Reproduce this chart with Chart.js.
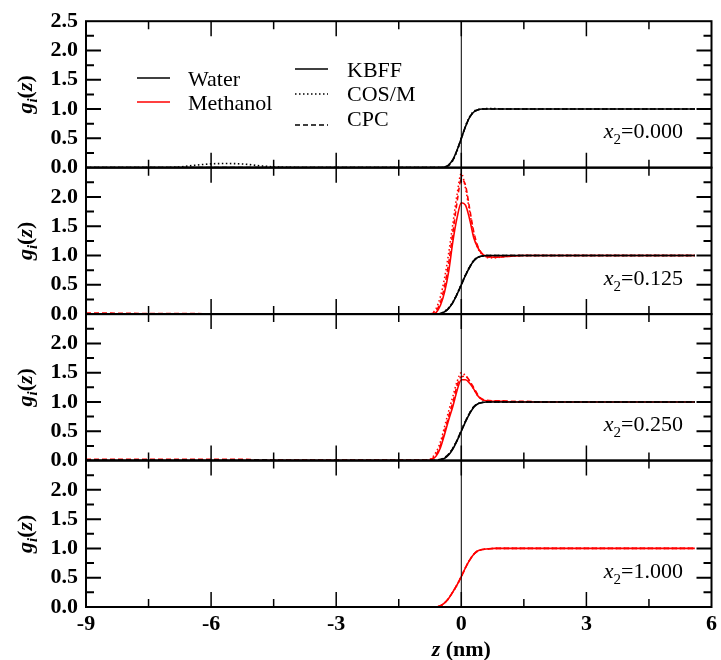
<!DOCTYPE html>
<html>
<head>
<meta charset="utf-8">
<script src="https://cdn.jsdelivr.net/npm/chart.js@4.4.0/dist/chart.umd.min.js"></script>
<style>
  html, body { margin: 0; padding: 0; background: #fff; }
  #wrap { width: 721px; height: 660px; }
</style>
</head>
<body>
<div id="wrap"><canvas id="gz" width="721" height="660"></canvas></div>
<script>
// g_i(z) density profiles across the interface, one panel per methanol fraction x2

const Z = [-9, -7.2, -6.8, -6.4, -6.0, -5.6, -5.2, -4.8, -4.4, -3, -1.5,
  -1.0, -0.8, -0.7, -0.6, -0.5, -0.4, -0.3, -0.2, -0.1,
  0, 0.1, 0.2, 0.3, 0.4, 0.5, 0.6, 0.8, 1.0, 1.2, 1.5, 2, 3, 4, 5, 5.6];

const PANEL_X2 = ["0.000", "0.125", "0.250", "1.000"];
const X_TICKS = [-9, -6, -3, 0, 3, 6];
const Y_TICKS = [0, 0.5, 1.0, 1.5, 2.0, 2.5];

// x2 = 0.000 (water only)
const w000_kbff = [0,0,0,0,0,0,0,0,0,0,0, 0,0,0,0, 0,0.01,0.05,0.14,0.30, 0.50,0.70,0.86,0.95,0.99, 1.0,1.0,1.0,1.0,1.0,1.0,1.0,1.0,1.0,1.0,1.0];
const w000_cosm = [0,0,0.01,0.04,0.065,0.07,0.06,0.03,0.01,0,0, 0,0,0,0, 0,0.01,0.05,0.13,0.29, 0.50,0.71,0.87,0.96,0.99, 1.0,1.01,1.01,1.0,1.0,1.0,1.0,1.0,1.0,1.0,1.0];
const w000_cpc  = [0,0,0,0,0,0,0,0,0,0,0, 0,0,0,0, 0,0.01,0.04,0.13,0.30, 0.50,0.70,0.86,0.95,0.99, 1.0,1.0,1.0,1.0,1.0,1.0,1.0,1.0,1.0,1.0,1.0];

// x2 = 0.125
const w125_kbff = [0,0,0,0,0,0,0,0,0,0,0, 0,0,0,0, 0.01,0.04,0.10,0.20,0.34, 0.50,0.66,0.80,0.91,0.97, 0.99,1.0,1.0,1.0,1.0,1.0,1.0,1.0,1.0,1.0,1.0];
const w125_cosm = [0,0,0,0,0,0,0,0,0,0,0, 0,0,0,0, 0.01,0.05,0.11,0.21,0.35, 0.51,0.67,0.81,0.92,0.97, 0.99,1.0,1.0,1.0,1.0,1.0,1.0,1.0,1.0,1.0,1.0];
const w125_cpc  = [0,0,0,0,0,0,0,0,0,0,0, 0,0,0,0, 0.01,0.04,0.10,0.20,0.34, 0.50,0.66,0.80,0.91,0.97, 0.99,1.0,1.0,1.0,1.0,1.0,1.0,1.0,1.0,1.0,1.0];
const m125_kbff = [0,0,0,0,0,0,0,0,0,0,0, 0,0,0,0.03, 0.15,0.38,0.74,1.25,1.65, 1.90,1.86,1.62,1.30,1.13, 1.03,0.99,0.97,0.98,0.99,1.0,1.0,1.0,1.0,1.0,1.0];
const m125_cosm = [0,0,0,0,0,0,0,0,0,0,0, 0,0,0.02,0.10, 0.30,0.62,1.05,1.55,2.05, 2.40,2.15,1.75,1.35,1.12, 1.02,0.97,0.96,0.98,0.99,1.0,1.0,1.0,1.0,1.0,1.0];
const m125_cpc  = [0.02,0.01,0.01,0.01,0,0,0,0,0,0,0, 0,0,0.01,0.06, 0.20,0.48,0.88,1.40,1.92, 2.30,2.20,1.80,1.40,1.15, 1.03,0.98,0.97,0.98,1.0,1.0,1.0,1.0,1.0,1.0,1.0];

// x2 = 0.250
const w250_kbff = [0,0,0,0,0,0,0,0,0,0,0, 0,0,0,0, 0.01,0.04,0.10,0.20,0.34, 0.50,0.66,0.80,0.91,0.97, 0.99,1.0,1.0,1.0,1.0,1.0,1.0,1.0,1.0,1.0,1.0];
const w250_cosm = [0,0,0,0,0,0,0,0,0,0,0, 0,0,0,0, 0.01,0.05,0.11,0.21,0.35, 0.51,0.67,0.81,0.92,0.97, 0.99,1.0,1.0,1.0,1.0,1.0,1.0,1.0,1.0,1.0,1.0];
const w250_cpc  = [0.01,0.01,0.01,0.01,0.01,0.01,0.01,0.01,0,0,0, 0,0,0,0.01, 0.02,0.05,0.11,0.21,0.35, 0.51,0.67,0.81,0.92,0.97, 0.99,1.0,1.0,1.0,1.0,1.0,1.0,1.0,1.0,1.0,1.0];
const m250_kbff = [0,0,0,0,0,0,0,0,0,0,0, 0,0,0.02,0.08, 0.22,0.45,0.70,0.93,1.20, 1.38,1.38,1.32,1.22,1.10, 1.04,1.02,1.01,1.01,1.0,1.0,1.0,1.0,1.0,1.0,1.0];
const m250_cosm = [0,0,0,0,0,0,0,0,0,0,0, 0,0.01,0.05,0.15, 0.32,0.58,0.85,1.10,1.35, 1.50,1.45,1.35,1.22,1.10, 1.04,1.02,1.01,1.01,1.0,1.0,1.0,1.0,1.0,1.0,1.0];
const m250_cpc  = [0.02,0.02,0.02,0.02,0.02,0.02,0.02,0.01,0.01,0.01,0.01, 0.01,0.01,0.03,0.10, 0.26,0.50,0.76,1.00,1.28, 1.43,1.44,1.36,1.24,1.12, 1.05,1.03,1.02,1.02,1.01,1.01,1.0,1.0,1.0,1.0,1.0];

// x2 = 1.000 (methanol only)
const m1000_kbff = [0,0,0,0,0,0,0,0,0,0,0, 0,0,0,0, 0.02,0.07,0.15,0.26,0.38, 0.52,0.67,0.80,0.90,0.96, 0.98,0.99,1.0,1.0,1.0,1.0,1.0,1.0,1.0,1.0,1.0];
const m1000_cosm = [0,0,0,0,0,0,0,0,0,0,0, 0,0,0,0, 0.02,0.07,0.15,0.26,0.38, 0.52,0.67,0.80,0.90,0.96, 0.98,0.99,1.0,1.0,1.0,1.0,1.0,1.0,1.0,1.0,1.0];
const m1000_cpc  = [0,0,0,0,0,0,0,0,0,0,0, 0,0,0,0, 0.02,0.07,0.15,0.26,0.38, 0.52,0.67,0.80,0.90,0.96, 0.98,0.99,1.0,1.0,1.0,1.0,1.0,1.0,1.0,1.0,1.0];

const FONT = "'Liberation Serif', 'Times New Roman', serif";
const BLACK = "#000000";
const RED = "#ff0000";
const DOT = [1.5, 2.5];
const DASH = [5, 3];

function series(vals, axis, color, dash) {
  return {
    data: Z.map((z, i) => ({ x: z, y: vals[i] })),
    yAxisID: axis,
    borderColor: color,
    borderWidth: 1.6,
    borderDash: dash || [],
    pointRadius: 0,
    cubicInterpolationMode: "monotone",
    fill: false
  };
}

const datasets = [
  series(w000_kbff, "y0", BLACK), series(w000_cosm, "y0", BLACK, DOT), series(w000_cpc, "y0", BLACK, DASH),
  series(w125_kbff, "y1", BLACK), series(w125_cosm, "y1", BLACK, DOT), series(w125_cpc, "y1", BLACK, DASH),
  series(m125_kbff, "y1", RED), series(m125_cosm, "y1", RED, DOT), series(m125_cpc, "y1", RED, DASH),
  series(w250_kbff, "y2", BLACK), series(w250_cosm, "y2", BLACK, DOT), series(w250_cpc, "y2", BLACK, DASH),
  series(m250_kbff, "y2", RED), series(m250_cosm, "y2", RED, DOT), series(m250_cpc, "y2", RED, DASH),
  series(m1000_kbff, "y3", RED), series(m1000_cosm, "y3", RED, DOT), series(m1000_cpc, "y3", RED, DASH)
];

function yScale(idx) {
  return {
    type: "linear",
    position: "left",
    stack: "panels",
    stackWeight: 1,
    min: 0,
    max: 2.5,
    grid: { display: false, drawTicks: false },
    border: { display: false },
    afterBuildTicks: (s) => { s.ticks = Y_TICKS.map(v => ({ value: v })); },
    afterFit: (s) => { s.width = 86; },
    ticks: {
      autoSkip: false,
      padding: 8,
      color: BLACK,
      font: { family: FONT, size: 22, weight: "bold" },
      // lower panels leave the 2.5 label to the panel above
      callback: (v) => (idx > 0 && v === 2.5) ? "" : v.toFixed(1)
    }
  };
}

// runs of text with mixed fonts (italic symbols, subscripts)
function drawRuns(ctx, runs, x, y, align) {
  let w = 0;
  runs.forEach(r => { ctx.font = r.font; w += ctx.measureText(r.t).width; });
  let cx = align === "right" ? x - w : align === "center" ? x - w / 2 : x;
  runs.forEach(r => {
    ctx.font = r.font;
    ctx.fillText(r.t, cx, y + (r.dy || 0));
    cx += ctx.measureText(r.t).width;
  });
}

const framePlugin = {
  id: "frame",
  afterDraw(chart) {
    const ctx = chart.ctx;
    const xs = chart.scales.x;
    const area = chart.chartArea;
    const panels = ["y0", "y1", "y2", "y3"].map(id => chart.scales[id]);
    ctx.save();
    ctx.strokeStyle = BLACK;
    ctx.fillStyle = BLACK;

    // vertical line at z = 0 through all panels
    const x0 = xs.getPixelForValue(0);
    ctx.lineWidth = 1;
    ctx.beginPath();
    ctx.moveTo(x0, area.top);
    ctx.lineTo(x0, area.bottom);
    ctx.stroke();

    panels.forEach((s, p) => {
      // inward ticks on y (every 0.25)
      ctx.lineWidth = 2;
      for (let k = 1; k < 10; k++) {
        const py = s.getPixelForValue(k * 0.25);
        const len = k % 2 === 0 ? 15 : 8;
        ctx.beginPath();
        ctx.moveTo(area.left, py); ctx.lineTo(area.left + len, py);
        ctx.moveTo(area.right, py); ctx.lineTo(area.right - len, py);
        ctx.stroke();
      }
      // inward ticks on x (every 1.5)
      ctx.lineWidth = 1.5;
      for (let k = 1; k < 10; k++) {
        const px = xs.getPixelForValue(-9 + k * 1.5);
        const len = k % 2 === 0 ? 15 : 8;
        ctx.beginPath();
        ctx.moveTo(px, s.bottom); ctx.lineTo(px, s.bottom - len);
        ctx.moveTo(px, s.top); ctx.lineTo(px, s.top + len);
        ctx.stroke();
      }
      // panel frame
      ctx.lineWidth = 2;
      ctx.strokeRect(area.left, s.top, area.right - area.left, s.bottom - s.top);

      // x2 label
      ctx.textAlign = "left";
      ctx.textBaseline = "alphabetic";
      drawRuns(ctx, [
        { t: "x", font: "italic 22px " + FONT },
        { t: "2", font: "15px " + FONT, dy: 6 },
        { t: "=" + PANEL_X2[p], font: "22px " + FONT }
      ], 683, s.getPixelForValue(0.5), "right");

      // y title g_i(z)
      ctx.save();
      ctx.translate(25, (s.top + s.bottom) / 2);
      ctx.rotate(-Math.PI / 2);
      drawRuns(ctx, [
        { t: "g", font: "italic bold 22px " + FONT },
        { t: "i", font: "italic bold 15px " + FONT, dy: 5 },
        { t: "(", font: "bold 22px " + FONT },
        { t: "z", font: "italic bold 22px " + FONT },
        { t: ")", font: "bold 22px " + FONT }
      ], 0, 7, "center");
      ctx.restore();
    });

    // x title
    drawRuns(ctx, [
      { t: "z", font: "italic bold 22px " + FONT },
      { t: " (nm)", font: "bold 22px " + FONT }
    ], x0, 656, "center");

    // legend: species
    ctx.lineWidth = 1.5;
    const legendLine = (x1, x2, y, color, dash) => {
      ctx.strokeStyle = color;
      ctx.setLineDash(dash || []);
      ctx.beginPath(); ctx.moveTo(x1, y); ctx.lineTo(x2, y); ctx.stroke();
      ctx.setLineDash([]);
    };
    legendLine(137, 170, 78, BLACK);
    legendLine(137, 170, 102, RED);
    ctx.font = "22px " + FONT;
    ctx.fillText("Water", 188, 86);
    ctx.fillText("Methanol", 188, 110);
    // legend: models
    legendLine(295, 328, 69, BLACK);
    legendLine(295, 328, 94, BLACK, DOT);
    legendLine(295, 328, 125, BLACK, DASH);
    ctx.fillText("KBFF", 347, 77);
    ctx.fillText("COS/M", 347, 101);
    ctx.fillText("CPC", 347, 126);

    ctx.restore();
  }
};

new Chart(document.getElementById("gz"), {
  type: "line",
  data: { datasets },
  options: {
    responsive: false,
    animation: false,
    devicePixelRatio: 1,
    layout: { padding: { top: 20, right: 8, bottom: 0, left: 0 } },
    plugins: { legend: { display: false }, tooltip: { enabled: false } },
    scales: {
      x: {
        type: "linear",
        min: -9,
        max: 6,
        grid: { display: false, drawTicks: false },
        border: { display: false },
        afterBuildTicks: (s) => { s.ticks = X_TICKS.map(v => ({ value: v })); },
        afterFit: (s) => { s.height = 53; },
        ticks: {
          autoSkip: false,
          maxRotation: 0,
          padding: 4,
          color: BLACK,
          font: { family: FONT, size: 22, weight: "bold" },
          callback: (v) => String(v)
        }
      },
      // left-side stacks are laid out last-defined-first, so list bottom panel first
      y3: yScale(3),
      y2: yScale(2),
      y1: yScale(1),
      y0: yScale(0)
    }
  },
  plugins: [framePlugin]
});
</script>
</body>
</html>
